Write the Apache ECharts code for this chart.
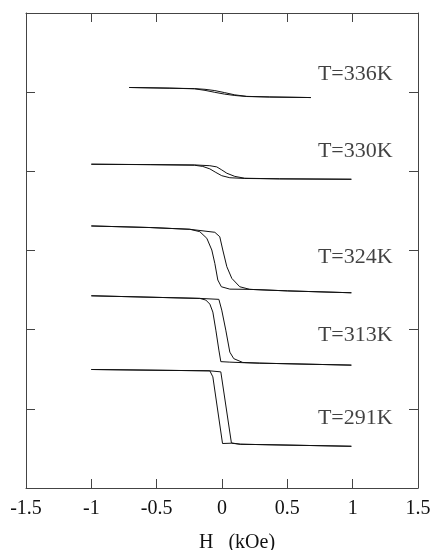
<!DOCTYPE html>
<html>
<head>
<meta charset="utf-8">
<script src="https://cdn.jsdelivr.net/npm/echarts@6/dist/echarts.min.js"></script>
<style>
  html, body { margin: 0; padding: 0; background: #fff; }
  #chart { width: 438px; height: 550px; }
</style>
</head>
<body>
<div id="chart"></div>
<script>
// X axis ticks (kOe)
const xTicks = [-1.5, -1, -0.5, 0, 0.5, 1, 1.5];
// Y axis (offset magnetization, arbitrary units), unlabeled ticks
const yTicks = [0, 1, 2, 3, 4, 5, 6];

// Temperature labels and their anchor positions (H, M)
const temps  = ['T=336K', 'T=330K', 'T=324K', 'T=313K', 'T=291K'];
const labelH = [1.306, 1.306, 1.306, 1.306, 1.306];
const labelM = [5.225, 4.251, 2.917, 1.930, 0.880];

// Hysteresis branches: [H (kOe), M (offset a.u.)]
const up336 = [[-0.71,5.059],[-0.21,5.045],[-0.13,5.036],[-0.055,5.020],[0.021,4.994],[0.098,4.966],[0.19,4.947],[0.365,4.939],[0.68,4.932]];
const down336 = [[0.68,4.932],[0.365,4.939],[0.19,4.945],[0.098,4.958],[0.021,4.975],[-0.055,4.998],[-0.13,5.023],[-0.21,5.042],[-0.40,5.051],[-0.71,5.059]];

const up330 = [[-1.0,4.090],[-0.55,4.085],[-0.21,4.081],[-0.093,4.071],[-0.04,4.056],[-0.002,4.018],[0.037,3.976],[0.098,3.936],[0.174,3.913],[0.44,3.905],[0.99,3.900]];
const down330 = [[0.99,3.900],[0.44,3.905],[0.174,3.910],[0.06,3.919],[-0.002,3.945],[-0.047,3.986],[-0.093,4.031],[-0.147,4.062],[-0.21,4.077],[-0.55,4.084],[-1.0,4.090]];

const up324 = [[-1.0,3.310],[-0.55,3.290],[-0.246,3.268],[-0.055,3.230],[-0.017,3.174],[0.006,3.006],[0.037,2.795],[0.075,2.648],[0.136,2.542],[0.213,2.509],[0.5,2.490],[0.99,2.466]];
const down324 = [[0.99,2.466],[0.5,2.490],[0.213,2.509],[0.06,2.512],[-0.005,2.542],[-0.032,2.627],[-0.055,2.838],[-0.078,3.006],[-0.116,3.154],[-0.17,3.238],[-0.246,3.268],[-0.55,3.290],[-1.0,3.310]];

const up313 = [[-1.0,2.428],[-0.17,2.395],[-0.024,2.383],[-0.002,2.247],[0.029,1.994],[0.06,1.716],[0.09,1.634],[0.159,1.586],[0.289,1.577],[0.99,1.552]];
const down313 = [[0.99,1.552],[0.289,1.577],[0.174,1.582],[0.06,1.590],[-0.009,1.596],[-0.024,1.742],[-0.047,1.994],[-0.07,2.222],[-0.093,2.323],[-0.124,2.374],[-0.17,2.395],[-1.0,2.428]];

const up291 = [[-1.0,1.497],[-0.093,1.480],[-0.009,1.467],[0.072,0.569],[0.14,0.553],[0.99,0.527]];
const down291 = [[0.99,0.527],[0.14,0.553],[0.072,0.566],[0.004,0.562],[-0.07,1.404],[-0.093,1.480],[-1.0,1.497]];

const loops = [
  up336.concat(down336),
  up330.concat(down330),
  up324.concat(down324),
  up313.concat(down313),
  up291.concat(down291)
];

const FONT = '"Liberation Serif", "Times New Roman", serif';
const INK = '#111';
const FRAME = '#444';

const chart = echarts.init(document.getElementById('chart'), null, { renderer: 'canvas' });

const axisCommon = {
  axisLine: { show: true, onZero: false, lineStyle: { color: FRAME, width: 1 } },
  axisTick: { show: true, inside: true, length: 9, lineStyle: { color: FRAME, width: 1 } },
  splitLine: { show: false }
};

const series = loops.map((d, i) => ({
  type: 'line',
  name: temps[i],
  data: d,
  showSymbol: false,
  symbol: 'none',
  smooth: false,
  lineStyle: { color: INK, width: 1 },
  xAxisIndex: 0,
  yAxisIndex: 0,
  z: 3
}));

series.push({
  type: 'scatter',
  data: labelH.map((h, i) => [h, labelM[i]]),
  symbolSize: 0,
  xAxisIndex: 0,
  yAxisIndex: 0,
  label: {
    show: true,
    position: 'left',
    distance: 0,
    formatter: p => temps[p.dataIndex],
    fontFamily: FONT,
    fontSize: 22,
    color: INK
  },
  silent: true,
  z: 4
});

chart.setOption({
  animation: false,
  backgroundColor: '#fff',
  grid: { left: 26, right: 20, top: 13, bottom: 62, containLabel: false, outerBoundsMode: 'none' },
  xAxis: [
    Object.assign({
      type: 'value', position: 'bottom',
      min: xTicks[0], max: xTicks[xTicks.length - 1], interval: 0.5,
      axisLabel: { show: true, margin: 11, fontFamily: FONT, fontSize: 20, color: INK },
      name: 'H   (kOe)', nameLocation: 'middle', nameGap: 45,
      nameTextStyle: { fontFamily: FONT, fontSize: 20, color: INK, padding: [0, 0, 0, 30] }
    }, axisCommon),
    Object.assign({
      type: 'value', position: 'top',
      min: xTicks[0], max: xTicks[xTicks.length - 1], interval: 0.5,
      axisLabel: { show: false }
    }, axisCommon)
  ],
  yAxis: [
    Object.assign({
      type: 'value', position: 'left',
      min: yTicks[0], max: yTicks[yTicks.length - 1], interval: 1,
      axisLabel: { show: false }
    }, axisCommon),
    Object.assign({
      type: 'value', position: 'right',
      min: yTicks[0], max: yTicks[yTicks.length - 1], interval: 1,
      axisLabel: { show: false }
    }, axisCommon)
  ],
  series: series
});
</script>
</body>
</html>
